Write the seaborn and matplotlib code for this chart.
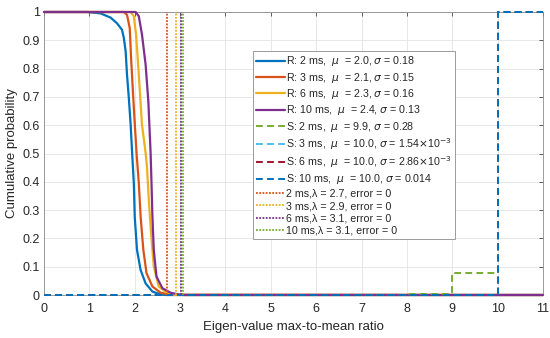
import numpy as np
import pandas as pd
import matplotlib
matplotlib.use("Agg")
import matplotlib.pyplot as plt
import seaborn as sns

# ---- data ----
r_labels = ["R: 2 ms,  $\\mu$  = 2.0, $\\sigma$ = 0.18",
            "R: 3 ms,  $\\mu$  = 2.1, $\\sigma$ = 0.15",
            "R: 6 ms,  $\\mu$  = 2.3, $\\sigma$ = 0.16",
            "R: 10 ms,  $\\mu$  = 2.4, $\\sigma$ = 0.13"]
r2_x = [0, 0.95, 1.25, 1.47, 1.61, 1.72, 1.76, 1.80, 1.83, 1.87, 1.91, 1.94, 1.98, 2.00,
        2.05, 2.13, 2.24, 2.39, 2.57, 2.70, 11]
r2_y = [1, 1.0, 0.995, 0.98, 0.96, 0.937, 0.908, 0.861, 0.778, 0.696, 0.602, 0.51, 0.395, 0.277,
        0.159, 0.088, 0.041, 0.012, 0.002, 0, 0]
r3_x = [0, 1.76, 1.83, 1.89, 1.92, 1.98, 2.04, 2.09, 2.13, 2.19, 2.26, 2.39, 2.57, 2.79, 11]
r3_y = [1, 1.0, 0.99, 0.943, 0.837, 0.661, 0.502, 0.395, 0.277, 0.159, 0.077, 0.03, 0.008, 0.001, 0]
r6_x = [0, 1.91, 1.98, 2.03, 2.09, 2.16, 2.24, 2.27, 2.31, 2.36, 2.42, 2.53, 2.72, 2.90, 11]
r6_y = [1, 1.0, 0.985, 0.92, 0.778, 0.602, 0.502, 0.453, 0.336, 0.218, 0.10, 0.03, 0.006, 0, 0]
r10_x = [0, 2.02, 2.09, 2.16, 2.24, 2.30, 2.35, 2.37, 2.39, 2.42, 2.48, 2.61, 2.79, 2.97, 3.10, 11]
r10_y = [1, 1.0, 0.985, 0.92, 0.814, 0.684, 0.502, 0.395, 0.277, 0.159, 0.065, 0.024, 0.008, 0.002, 0, 0]

s_labels = ["S: 2 ms,  $\\mu$  = 9.9, $\\sigma$ = 0.28",
            "S: 3 ms,  $\\mu$  = 10.0, $\\sigma$ = 1.54$\\times$10$^{-3}$",
            "S: 6 ms,  $\\mu$  = 10.0, $\\sigma$ = 2.86$\\times$10$^{-3}$",
            "S: 10 ms,  $\\mu$  = 10.0, $\\sigma$ = 0.014"]
s2_x = [0, 8, 9, 10, 11]
s2_y = [0, 0.003, 0.079, 1, 1]
s3_x = [0, 10, 11]
s3_y = [0, 1, 1]
s6_x = [0, 10, 11]
s6_y = [0, 1, 1]
s10_x = [0, 10, 11]
s10_y = [0, 1, 1]

v_labels = ["2 ms,λ = 2.7, error = 0",
            "3 ms,λ = 2.9, error = 0",
            "6 ms,λ = 3.1, error = 0",
            "10 ms,λ = 3.1, error = 0"]
v_pos = [2.72, 2.91, 3.03, 3.07]

x_ticks = list(range(0, 12))
y_ticks = [0, 0.1, 0.2, 0.3, 0.4, 0.5, 0.6, 0.7, 0.8, 0.9, 1]
y_ticklabels = ["0", "0.1", "0.2", "0.3", "0.4", "0.5", "0.6", "0.7", "0.8", "0.9", "1"]

# ---- style ----
sns.set_theme(style="white")
plt.rcParams['font.family'] = ['Liberation Sans', 'DejaVu Sans']
plt.rcParams['mathtext.fontset'] = 'dejavusans'

c_blue = "#0072BD"; c_orange = "#D95319"; c_yellow = "#EDB120"
c_purple = "#7E2F8E"; c_green = "#77AC30"; c_cyan = "#4DBEEE"; c_dred = "#A2142F"

fig = plt.figure(figsize=(5.5, 3.38), dpi=100)
ax = fig.add_axes([44/550, 1 - 295/338, (543 - 44)/550, (295 - 12)/338])

r_sets = [(r2_x, r2_y, c_blue), (r3_x, r3_y, c_orange), (r6_x, r6_y, c_yellow), (r10_x, r10_y, c_purple)]
for (x, y, c), lab in zip(r_sets, r_labels):
    sns.lineplot(x=x, y=y, ax=ax, color=c, lw=1.6, sort=False, estimator=None, label=lab,
                 clip_on=False, zorder=3)

s_sets = [(s2_x, s2_y, c_green), (s3_x, s3_y, c_cyan), (s6_x, s6_y, c_dred), (s10_x, s10_y, c_blue)]
for (x, y, c), lab in zip(s_sets, s_labels):
    sns.lineplot(x=x, y=y, ax=ax, color=c, lw=1.4, sort=False, estimator=None,
                 drawstyle="steps-post", linestyle=(0, (3.5, 2.2)), label=lab,
                 clip_on=False, zorder=3)

v_colors = [c_orange, c_yellow, c_purple, c_green]
for p, c, lab in zip(v_pos, v_colors, v_labels):
    sns.lineplot(x=[p, p], y=[0, 1], ax=ax, color=c, lw=1.3, sort=False, estimator=None,
                 linestyle=(0, (1, 0.8)), label=lab, zorder=3)

ax.set_xlim(0, 11)
ax.set_ylim(0, 1)
ax.set_xticks(x_ticks)
ax.set_yticks(y_ticks)
ax.set_yticklabels(y_ticklabels)
ax.tick_params(axis='both', labelsize=9, colors="#262626", direction='in', length=3,
               width=0.5, top=True, right=True)
ax.tick_params(axis='x', pad=6)
ax.tick_params(axis='y', pad=3)
for lbl in ax.get_xticklabels() + ax.get_yticklabels():
    lbl.set_color("#262626")
ax.grid(True, color="#e3e3e3", lw=0.6)
ax.set_axisbelow(True)
for s in ax.spines.values():
    s.set_color("#8c8c8c")
    s.set_linewidth(0.6)
    s.set_zorder(2)

ax.set_xlabel("Eigen-value max-to-mean ratio", fontsize=9.5, color="#262626", labelpad=4)
ax.set_ylabel("Cumulative probability", fontsize=9.5, color="#262626", labelpad=3)

leg = ax.legend(loc="upper left", bbox_to_anchor=(0.419, 0.862), borderaxespad=0,
                fontsize=7.7, handlelength=2.7, handletextpad=0.1, labelspacing=0.22,
                frameon=True, fancybox=False, borderpad=0.3)
leg.get_frame().set_edgecolor("#8c8c8c")
leg.get_frame().set_linewidth(0.6)
leg.get_frame().set_facecolor("white")
leg.get_frame().set_alpha(1)
leg.set_zorder(5)

fig.savefig("out.png", dpi=100)
